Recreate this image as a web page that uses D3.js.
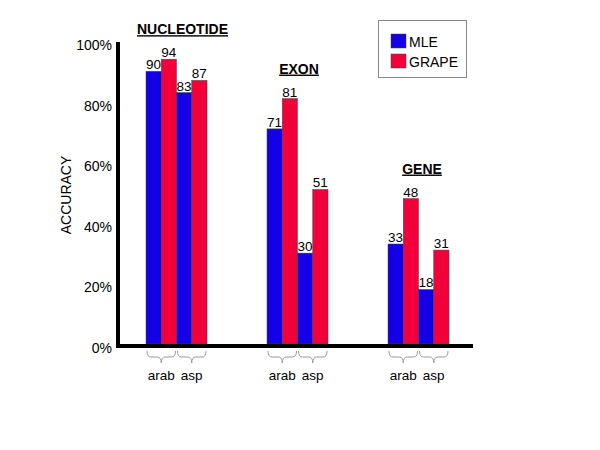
<!DOCTYPE html>
<html><head><meta charset="utf-8">
<script src="https://cdn.jsdelivr.net/npm/d3@7"></script>
<style>body{margin:0;background:#fff}text{font-family:Arial,"Liberation Sans",sans-serif}</style>
</head><body>
<script>
const groups = ["NUCLEOTIDE","EXON","GENE"];
const species = ["arab","asp"];
const methods = ["MLE","GRAPE"];
const mleArab = [90,71,33];
const grapeArab = [94,81,48];
const mleAsp = [83,30,18];
const grapeAsp = [87,51,31];
const yTicks = [0,20,40,60,80,100];

const colors = {MLE:"#1400e6", GRAPE:"#f2003a"};
const W=600,H=450;
const svg=d3.select("body").append("svg").attr("width",W).attr("height",H);

const y=d3.scaleLinear().domain([0,100]).range([344,41]);
const xg=d3.scalePoint().domain(groups).range([176.5,418.5]);
const xb=d3.scaleBand().domain([0,1,2,3]).range([-30.5,30.5]);

const bars=[];
groups.forEach((g,i)=>{
  bars.push({g,k:0,m:"MLE",v:mleArab[i]});
  bars.push({g,k:1,m:"GRAPE",v:grapeArab[i]});
  bars.push({g,k:2,m:"MLE",v:mleAsp[i]});
  bars.push({g,k:3,m:"GRAPE",v:grapeAsp[i]});
});

svg.selectAll("rect.bar").data(bars).join("rect").attr("class","bar")
  .attr("x",d=>xg(d.g)+xb(d.k)).attr("width",xb.bandwidth())
  .attr("y",d=>y(d.v)).attr("height",d=>y(0)-y(d.v))
  .attr("fill",d=>colors[d.m]).attr("stroke","#444").attr("stroke-width",0.5);

svg.selectAll("text.val").data(bars).join("text").attr("class","val")
  .attr("x",d=>xg(d.g)+xb(d.k)+xb.bandwidth()/2).attr("y",d=>y(d.v)-2)
  .attr("text-anchor","middle").attr("font-size",13.5).attr("fill","#000").text(d=>d.v);

// axes
const yAxis=svg.append("g").attr("transform","translate(118,0)")
  .call(d3.axisLeft(y).tickValues(yTicks).tickSize(0).tickPadding(6).tickFormat(d=>d+"%"));
yAxis.select(".domain").remove();
yAxis.selectAll("text").attr("font-size",14).attr("dy","0.32em").attr("transform","translate(0,4)");
svg.append("line").attr("x1",118).attr("x2",118).attr("y1",y(100)+1).attr("y2",348).attr("stroke","#000").attr("stroke-width",4);
svg.append("line").attr("x1",116).attr("x2",473).attr("y1",346).attr("y2",346).attr("stroke","#000").attr("stroke-width",4);

svg.append("text").attr("transform","translate(71,195) rotate(-90)").attr("text-anchor","middle")
  .attr("font-size",14).text("ACCURACY");

// group titles
groups.forEach((g,i)=>{
  const mx=Math.max(mleArab[i],grapeArab[i],mleAsp[i],grapeAsp[i]);
  svg.append("text").attr("x",xg(g)+(i===0?6:i===1?1.5:3.5)).attr("y",y(mx)-25)
    .attr("text-anchor","middle").attr("font-size",14).attr("font-weight","bold")
    .attr("text-decoration","underline").text(g);
});

// braces and species labels
groups.forEach(g=>{
  species.forEach((s,j)=>{
    const x0=xg(g)+xb(j*2)+1, x1=xg(g)+xb(j*2+1)+xb.bandwidth()-1, xc=(x0+x1)/2;
    const top=351, mid=357, tip=363;
    const p=`M${x0},${top} Q${x0},${mid} ${x0+4},${mid} L${xc-4},${mid} Q${xc},${mid} ${xc},${tip} Q${xc},${mid} ${xc+4},${mid} L${x1-4},${mid} Q${x1},${mid} ${x1},${top}`;
    svg.append("path").attr("d",p).attr("fill","none").attr("stroke","#999").attr("stroke-width",1);
    svg.append("text").attr("x",xc).attr("y",380).attr("text-anchor","middle").attr("font-size",13.5).text(s);
  });
});

// legend
const lg=svg.append("g");
lg.append("rect").attr("x",378.5).attr("y",20.5).attr("width",88).attr("height",57).attr("fill","#fff").attr("stroke","#888").attr("stroke-width",1);
methods.forEach((m,i)=>{
  lg.append("rect").attr("x",391).attr("y",34+i*20).attr("width",15).attr("height",14).attr("fill",colors[m]).attr("stroke","#444").attr("stroke-width",0.5);
  lg.append("text").attr("x",409).attr("y",47+i*20).attr("font-size",14).text(m);
});
</script>
</body></html>
